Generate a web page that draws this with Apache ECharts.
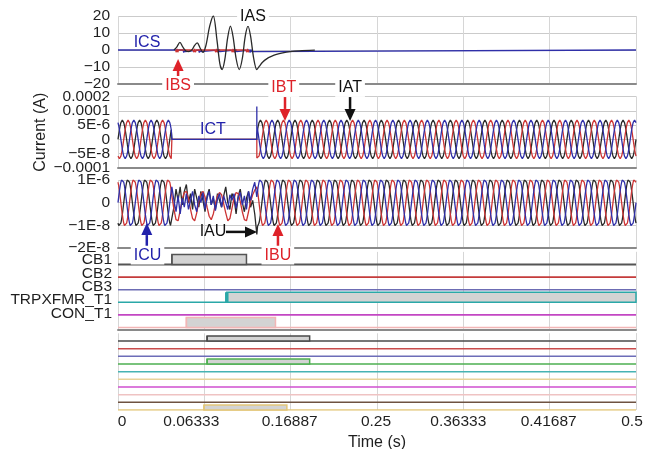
<!DOCTYPE html>
<html>
<head>
<meta charset="utf-8">
<script src="https://cdn.jsdelivr.net/npm/echarts@6/dist/echarts.min.js"></script>
<style>
  html, body { margin: 0; padding: 0; background: #ffffff; }
  #chart { width: 654px; height: 449px; }
</style>
</head>
<body>
<div id="chart"></div>
<script>
// ---------------- data ----------------
const T_END = 0.5;
const timeTickLabels = ['0', '0.06333', '0.16887', '0.25', '0.36333', '0.41687', '0.5'];
const sTickLabels = ['\u221220', '\u221210', '0', '10', '20'];
const tTickLabels = ['\u22120.0001', '\u22125E-8', '0', '5E-6', '0.0001', '0.0002'];
const uTickLabels = ['\u22122E-8', '\u22121E-8', '0', '1E-6'];

// S-side currents: [time (s), current]
const iasPoints = [
  [0.054, 0], [0.0565, 1.5], [0.0598, 4.5], [0.0625, 1.8], [0.0655, -0.6], [0.0685, -0.9], [0.0715, 0.2],
  [0.0738, 2.6], [0.0765, 4.2], [0.0792, 1.2], [0.082, -1.4], [0.0848, 2.5], [0.0885, 14], [0.092, 20],
  [0.0955, 6], [0.0983, -8], [0.1005, -11.5], [0.103, -6], [0.1058, 7], [0.1085, 14], [0.111, 8],
  [0.114, -5], [0.117, -11.5], [0.12, -5], [0.1228, 8], [0.1255, 14], [0.128, 8], [0.131, -5],
  [0.134, -11.5], [0.1365, -9.5], [0.1395, -7.2], [0.1435, -5.2], [0.148, -3.8], [0.153, -2.6],
  [0.159, -1.7], [0.166, -1.0], [0.175, -0.5], [0.19, -0.1]
];
const ibsPoints = [
  [0.0555, 0], [0.0563, -1.3], [0.057, 0.6], [0.0577, -1.3], [0.0585, 0],
  [0.0725, 0], [0.0733, -1.3], [0.074, 0.6], [0.0747, -1.3], [0.0755, 0],
  [0.0935, 0], [0.0943, -1.3], [0.095, 0.6], [0.0957, -1.3], [0.0965, 0],
  [0.1095, 0], [0.1103, -1.3], [0.111, 0.6], [0.1117, -1.3], [0.1125, 0],
  [0.1235, 0], [0.1243, -1.3], [0.125, 0.6], [0.1257, -1.3], [0.1265, 0]
];
const icsPoints = [
  [0, 0],
  [0.0628, 0], [0.0635, -1.5], [0.0643, 0.3], [0.065, -1.0], [0.0656, 0],
  [0.0778, 0], [0.0785, -1.5], [0.0793, 0.3], [0.08, -1.0], [0.0806, 0],
  [0.0963, 0], [0.097, -1.5], [0.0978, 0.3], [0.0985, -1.0], [0.0991, 0],
  [0.1124, 0], [0.1131, -1.5], [0.1139, 0.3], [0.1146, -1.0], [0.1152, 0],
  [0.1268, 0], [0.1275, -1.5], [0.1283, 0.3], [0.129, -1.0], [0.1296, 0],
  [0.5, 0]
];

// One 60 Hz steady-state cycle, 24 samples starting at the positive peak (per unit)
const unitCycle = [1, 0.966, 0.866, 0.707, 0.5, 0.259, 0, -0.259, -0.5, -0.707, -0.866, -0.966,
                   -1, -0.966, -0.866, -0.707, -0.5, -0.259, 0, 0.259, 0.5, 0.707, 0.866, 0.966];
const SAMPLE_RATE = 1440;          // 24 samples per 60 Hz cycle
const ampT = 1.35, ampU = 1.04;    // peak height in tick steps
const peakShiftT = { A: 6, B: 14, C: 22 };   // samples to first positive peak
const peakShiftU = { A: 14, B: 22, C: 6 };
const outageStart = 0.052, outageEnd = 0.134;
const ictSpike = [0.134, 2.3];

// Disturbed U currents, sampled every 2 ms from 0.052 s
const uNoiseStart = 0.052, uNoiseStep = 0.002;
const iauNoise = [-1.0, -0.2, 0.6, 0.1, 0.7, -0.1, 0.5, 0.8, 0.0, 0.4, -0.3, 0.6, 0.2, -0.2, 0.5, 0.1,
  -0.4, 0.3, 0.6, -0.1, 0.2, -0.3, 0.4, 0.1, -0.2, 0.3, 0.7, 0.0, -0.3, 0.4, 0.2, -0.5, 0.3, 0.6, 0.0,
  -0.4, 0.2, 0.5, -0.2, 0.1, -0.5, -1.4];
const ibuNoise = [0.3, -0.3, -0.75, -0.8, -0.35, 0.15, 0.45, 0.5, 0.2, -0.3, -0.7, -0.8, -0.45, 0.05,
  0.4, 0.5, 0.25, -0.2, -0.6, -0.75, -0.5, -0.05, 0.3, 0.45, 0.35, -0.05, -0.45, -0.8, -0.7, -0.25,
  0.2, 0.45, 0.4, 0.05, -0.4, -0.75, -0.8, -0.4, 0.05, 0.35, 0.55, 0.7];
const icuNoise = [0.7, 0.1, -0.4, 0.3, -0.5, 0.2, -0.2, 0.4, -0.3, 0.1, 0.5, -0.1, -0.4, 0.3, 0.0,
  0.45, -0.3, 0.2, 0.5, -0.1, 0.3, -0.35, 0.15, 0.4, -0.2, 0.3, 0.0, -0.3, 0.35, 0.1, 0.4, -0.25,
  0.2, 0.45, -0.1, 0.3, -0.3, 0.5, 0.1, 0.6, 0.9, 0.25];

// Digital channels: pulses as [on, off] in seconds
const upperChannels = ['CB1', 'CB2', 'CB3', 'TRPXFMR_T1', 'CON_T1', ''];
const upperPulses = [[[0.052, 0.124]], [], [], [[0.105, 0.5]], [], [[0.066, 0.152]]];
const lowerPulses = [[[0.086, 0.185]], [], [], [[0.086, 0.185]], [], [], [], [], [], [[0.083, 0.163]]];

// ---------------- styling ----------------
const FONT = '"Liberation Sans", Arial, sans-serif';
const INK = '#1f1f1f';
const BLACK = '#2a2a2a', RED = '#cc3434', BLUE = '#2f2fa8';
const LABEL_RED = '#de2229', LABEL_BLUE = '#2222ab';
const upperColors = ['#555555', '#c43b3b', '#6c6cb4', '#2aa8a8', '#c346c3', '#f2b6b6'];
const upperWidths = [2, 1.6, 1.6, 1.6, 1.6, 1.6];
const upperEdge = [1.5, 1.5, 1.5, 3.5, 1.5, 1.5];
const lowerColors = ['#4a4a4a', '#c94c4c', '#6d6db8', '#4caf50', '#46b3b3', '#e8d39a',
                     '#cf4fcf', '#efc3c3', '#6e5240', '#e3c678'];
const BLOCK_FILL = '#d3d3d3';
const xLabelNudge = [4, -13, -1, -1, -5, -1, -4];

const grids = [
  { top: 16, height: 68 },       // S currents
  { top: 96.5, height: 71.5 },   // T currents
  { top: 180, height: 68 },      // U currents
  { top: 251.9, height: 77.6 },  // digital group 1
  { top: 333.3, height: 76.7 }   // digital group 2
];

// ---------------- helpers ----------------
function cycleSamples(amp, shift, a, b) {
  const pts = [];
  const k0 = Math.ceil(a * SAMPLE_RATE - 1e-9), k1 = Math.floor(b * SAMPLE_RATE + 1e-9);
  for (let k = k0; k <= k1; k++) {
    pts.push([k / SAMPLE_RATE, amp * unitCycle[((k - shift) % 24 + 24) % 24]]);
  }
  return pts;
}
function tWave(shift, extra) {
  return [].concat(
    cycleSamples(ampT, shift, 0, outageStart - 0.0001),
    [[outageStart, 0], [outageEnd, 0]],
    extra ? [extra] : [],
    cycleSamples(ampT, shift, outageEnd, T_END)
  );
}
function uWave(shift, noise) {
  return [].concat(
    cycleSamples(ampU, shift, 0, uNoiseStart - 0.0001),
    noise.map((v, i) => [uNoiseStart + i * uNoiseStep, v]),
    cycleSamples(ampU, shift, outageEnd + 0.0001, T_END)
  );
}
function lineSeries(name, grid, data, color, extra) {
  return Object.assign({
    name, type: 'line', xAxisIndex: grid, yAxisIndex: grid, data,
    showSymbol: false, symbol: 'none', silent: true,
    lineStyle: { color, width: 1.3 }
  }, extra || {});
}

// Annotation labels and arrows, in data coordinates of their panel
const notes = [
  { panel: 0, text: 'ICS', color: LABEL_BLUE, at: [0.028, 4.1] },
  { panel: 0, text: 'IAS', color: '#111111', at: [0.1303, 19.4], boxed: true },
  { panel: 0, text: 'IBS', color: LABEL_RED, at: [0.058, -21.2], boxed: true },
  { panel: 1, text: 'ICT', color: LABEL_BLUE, at: [0.0917, 0.66] },
  { panel: 1, text: 'IBT', color: LABEL_RED, at: [0.160, 3.6], boxed: true },
  { panel: 1, text: 'IAT', color: '#111111', at: [0.224, 3.6], boxed: true },
  { panel: 2, text: 'IAU', color: '#111111', at: [0.0917, -1.29] },
  { panel: 2, text: 'ICU', color: LABEL_BLUE, at: [0.0285, -2.33], boxed: true },
  { panel: 2, text: 'IBU', color: LABEL_RED, at: [0.1543, -2.33], boxed: true }
];
const arrows = [
  { panel: 0, color: LABEL_RED, from: [0.058, -15.3], to: [0.058, -5.3] },
  { panel: 1, color: LABEL_RED, from: [0.1612, 2.96], to: [0.1612, 1.29] },
  { panel: 1, color: '#111111', from: [0.224, 2.96], to: [0.224, 1.29] },
  { panel: 2, color: '#111111', from: [0.1042, -1.29], to: [0.1342, -1.29] },
  { panel: 2, color: LABEL_BLUE, from: [0.0278, -1.9], to: [0.0278, -0.9] },
  { panel: 2, color: LABEL_RED, from: [0.1544, -1.9], to: [0.1544, -0.94] }
];

function noteSeries(panel) {
  const items = notes.filter(n => n.panel === panel);
  return {
    type: 'custom', xAxisIndex: panel, yAxisIndex: panel, z: 20, silent: true, clip: false,
    data: items.map(n => n.at),
    renderItem: (params, api) => {
      const n = items[params.dataIndex];
      const p = api.coord(n.at);
      return {
        type: 'text', x: p[0], y: p[1],
        style: {
          text: n.text, fill: n.color, font: '16px ' + FONT,
          align: 'center', verticalAlign: 'middle',
          backgroundColor: n.boxed ? '#ffffff' : 'transparent', padding: [1, 3]
        }
      };
    }
  };
}
function arrowSeries(panel) {
  const items = arrows.filter(a => a.panel === panel);
  return {
    type: 'custom', xAxisIndex: panel, yAxisIndex: panel, z: 19, silent: true, clip: false,
    data: items.map(a => a.to),
    renderItem: (params, api) => {
      const a = items[params.dataIndex];
      const p = api.coord(a.from), q = api.coord(a.to);
      const dx = q[0] - p[0], dy = q[1] - p[1];
      const len = Math.hypot(dx, dy) || 1;
      const ux = dx / len, uy = dy / len;
      const headL = 12, headW = 5.5;
      const bx = q[0] - ux * headL, by = q[1] - uy * headL;
      return {
        type: 'group', children: [
          { type: 'line', shape: { x1: p[0], y1: p[1], x2: bx, y2: by }, style: { stroke: a.color, lineWidth: 2.5 } },
          { type: 'polygon', shape: { points: [[q[0], q[1]], [bx - uy * headW, by + ux * headW], [bx + uy * headW, by - ux * headW]] },
            style: { fill: a.color } }
        ]
      };
    }
  };
}

// Tick labels of the T panel, placed at tick values -2..3 (they sit closer than one line height)
function tTickLabelSeries() {
  return {
    type: 'custom', xAxisIndex: 1, yAxisIndex: 1, z: 20, silent: true, clip: false,
    data: tTickLabels.map((_, i) => [0, i - 2]),
    renderItem: (params, api) => {
      const i = params.dataIndex;
      const p = api.coord([0, i - 2]);
      return {
        type: 'text', x: p[0] - 8, y: p[1],
        style: { text: tTickLabels[i], fill: INK, font: '15.5px ' + FONT, align: 'right', verticalAlign: 'middle' }
      };
    }
  };
}

// digital rows: baseline value for row i
const upperBase = i => 5 - i;
const lowerBase = i => 9 - i;
function digitalSeries(panel, pulses, colors, widths, edges, baseOf, blockH) {
  const out = [];
  pulses.forEach((_, i) => {
    out.push(lineSeries('row' + panel + '_' + i, panel, [[0, baseOf(i)], [T_END, baseOf(i)]], colors[i],
      { lineStyle: { color: colors[i], width: widths ? widths[i] : 1.5 } }));
  });
  const blocks = [];
  pulses.forEach((list, i) => list.forEach(p => blocks.push([p[0], p[1], i])));
  out.push({
    type: 'custom', xAxisIndex: panel, yAxisIndex: panel, z: 5, silent: true,
    data: blocks,
    renderItem: (params, api) => {
      const s = api.value(0), e = api.value(1), r = api.value(2);
      const p0 = api.coord([s, baseOf(r)]), p1 = api.coord([e, baseOf(r) + blockH]);
      const c = colors[r];
      return {
        type: 'group', children: [
          { type: 'rect', shape: { x: p0[0], y: p1[1], width: p1[0] - p0[0], height: p0[1] - p1[1] },
            style: { fill: BLOCK_FILL, stroke: c, lineWidth: 1.5 } },
          { type: 'line', shape: { x1: p0[0], y1: p0[1], x2: p0[0], y2: p1[1] },
            style: { stroke: c, lineWidth: edges ? edges[r] : 1.5 } }
        ]
      };
    }
  });
  return out;
}
function rowLabelSeries() {
  return {
    type: 'custom', xAxisIndex: 3, yAxisIndex: 3, z: 20, silent: true, clip: false,
    data: upperChannels.map((_, i) => [0, upperBase(i)]),
    renderItem: (params, api) => {
      const i = params.dataIndex;
      const p = api.coord([0, upperBase(i)]);
      return {
        type: 'text', x: p[0] - 6, y: p[1] + 3.5 + i * 0.8,
        style: { text: upperChannels[i], fill: INK, font: '15.5px ' + FONT, align: 'right', verticalAlign: 'bottom' }
      };
    }
  };
}

// ---------------- chart ----------------
const rich = {};
xLabelNudge.forEach((n, i) => {
  rich['n' + i] = { fontSize: 15.5, fontFamily: FONT, color: INK,
    padding: [0, n < 0 ? -2 * n : 0, 0, n > 0 ? 2 * n : 0] };
});

const yAxisBase = {
  type: 'value', axisLine: { show: false }, axisTick: { show: false },
  splitLine: { show: true, lineStyle: { color: '#cbcbcb', width: 1 } },
  axisLabel: { color: INK, fontSize: 15.5, fontFamily: FONT, margin: 8, showMinLabel: true, showMaxLabel: true,
    hideOverlap: false }
};

const option = {
  animation: false,
  backgroundColor: '#ffffff',
  textStyle: { fontFamily: FONT },
  grid: grids.map(g => ({ left: 118, right: 18, top: g.top, height: g.height, containLabel: false, outerBoundsMode: 'none' })),
  xAxis: grids.map((g, i) => ({
    type: 'value', gridIndex: i, min: 0, max: T_END, interval: T_END / 6,
    axisLine: { show: i < 4, onZero: false, lineStyle: { color: '#8a8a8a', width: 2 } },
    axisTick: { show: false },
    splitLine: { show: true, lineStyle: { color: '#d6d6d6', width: 1 } },
    axisLabel: i === 4 ? {
      show: true, margin: 4, showMinLabel: true, showMaxLabel: true, hideOverlap: true,
      formatter: v => { const k = Math.round(v / (T_END / 6)); return '{n' + k + '|' + timeTickLabels[k] + '}'; },
      rich
    } : { show: false },
    name: i === 4 ? 'Time (s)' : '',
    nameLocation: 'middle', nameGap: 25, nameMoveOverlap: false,
    nameTextStyle: { color: INK, fontSize: 16, fontFamily: FONT }
  })),
  yAxis: [
    Object.assign({}, yAxisBase, { gridIndex: 0, min: -20, max: 20, interval: 10,
      axisLabel: Object.assign({}, yAxisBase.axisLabel, { formatter: v => sTickLabels[Math.round(v / 10) + 2] }) }),
    Object.assign({}, yAxisBase, { gridIndex: 1, min: -2, max: 3, interval: 1,
      axisLabel: { show: false },
      name: 'Current (A)', nameLocation: 'middle', nameGap: 69, nameRotate: 90, nameMoveOverlap: false,
      nameTextStyle: { color: INK, fontSize: 16, fontFamily: FONT } }),
    Object.assign({}, yAxisBase, { gridIndex: 2, min: -2, max: 1, interval: 1,
      axisLabel: Object.assign({}, yAxisBase.axisLabel, { formatter: v => uTickLabels[Math.round(v) + 2] }) }),
    { type: 'value', gridIndex: 3, min: -0.16, max: 6, axisLine: { show: false }, axisTick: { show: false },
      axisLabel: { show: false }, splitLine: { show: false } },
    { type: 'value', gridIndex: 4, min: 0, max: 10, axisLine: { show: false }, axisTick: { show: false },
      axisLabel: { show: false }, splitLine: { show: false } }
  ],
  series: [].concat(
    [
      lineSeries('ICS', 0, icsPoints, BLUE),
      lineSeries('IBS', 0, ibsPoints, RED),
      lineSeries('IAS', 0, iasPoints, BLACK, { smooth: 0.3 }),
      lineSeries('IAT', 1, tWave(peakShiftT.A), BLACK),
      lineSeries('IBT', 1, tWave(peakShiftT.B), RED),
      lineSeries('ICT', 1, tWave(peakShiftT.C, ictSpike), BLUE),
      lineSeries('IAU', 2, uWave(peakShiftU.A, iauNoise), BLACK),
      lineSeries('IBU', 2, uWave(peakShiftU.B, ibuNoise), RED),
      lineSeries('ICU', 2, uWave(peakShiftU.C, icuNoise), BLUE)
    ],
    digitalSeries(3, upperPulses, upperColors, upperWidths, upperEdge, upperBase, 0.8),
    digitalSeries(4, lowerPulses, lowerColors, null, null, lowerBase, 0.65),
    [rowLabelSeries(), tTickLabelSeries()],
    [0, 1, 2].map(arrowSeries),
    [0, 1, 2].map(noteSeries)
  )
};

const chart = echarts.init(document.getElementById('chart'), null, { renderer: 'canvas' });
chart.setOption(option);
</script>
</body>
</html>
